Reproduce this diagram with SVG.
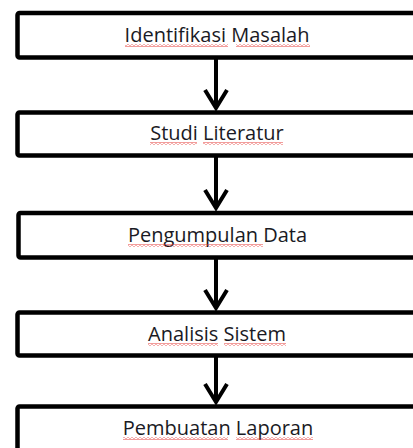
<svg xmlns="http://www.w3.org/2000/svg" width="413" height="448" viewBox="0 0 413 448">
  <style>
    .box { fill: #ffffff; stroke: #000000; stroke-width: 4.5; }
    .lbl { font-family: "Open Sans", "Noto Sans", sans-serif; font-size: 20px; fill: #1a1a24; text-anchor: middle; }
    .conn { stroke: #000000; stroke-width: 4; fill: none; }
    .sq { fill: url(#squiggle); }
  </style>
  <defs>
    <marker id="chev" markerUnits="userSpaceOnUse" viewBox="-24 -16 32 32" refX="0" refY="0" markerWidth="32" markerHeight="32" orient="auto" overflow="visible">
      <path d="M-18,-11 L0,0 L-18,11" fill="none" stroke="#000000" stroke-width="4" stroke-linejoin="miter"/>
    </marker>
    <pattern id="squiggle" patternUnits="userSpaceOnUse" width="4" height="3">
      <path d="M0,2.4 L2,0.6 L4,2.4" fill="none" stroke="#e53935" stroke-width="0.9"/>
    </pattern>
  </defs>
  <rect width="413" height="448" fill="#ffffff"/>

  <g id="connectors">
    <line class="conn" x1="216" y1="58" x2="216" y2="108" marker-end="url(#chev)"/>
    <line class="conn" x1="216" y1="156" x2="216" y2="208" marker-end="url(#chev)"/>
    <line class="conn" x1="216" y1="258" x2="216" y2="308" marker-end="url(#chev)"/>
    <line class="conn" x1="216" y1="356" x2="216" y2="402" marker-end="url(#chev)"/>
  </g>

  <g id="node-identifikasi">
    <rect class="box" x="17.5" y="13" width="420" height="44.5" rx="2"/>
    <text class="lbl" x="217" y="42">Identifikasi Masalah</text>
    <rect class="sq" x="125" y="44" width="103" height="3"/>
    <rect class="sq" x="236" y="44" width="74" height="3"/>
  </g>

  <g id="node-studi">
    <rect class="box" x="17.5" y="112.5" width="420" height="43" rx="2"/>
    <text class="lbl" x="217" y="140">Studi Literatur</text>
    <rect class="sq" x="150" y="142" width="47" height="3"/>
    <rect class="sq" x="203" y="142" width="80" height="3"/>
  </g>

  <g id="node-pengumpulan">
    <rect class="box" x="18.5" y="213" width="420" height="44.5" rx="2"/>
    <text class="lbl" x="217.5" y="242">Pengumpulan Data</text>
    <rect class="sq" x="128" y="244" width="135" height="3"/>
  </g>

  <g id="node-analisis">
    <rect class="box" x="17.5" y="312.5" width="420" height="43" rx="2"/>
    <text class="lbl" x="217" y="341">Analisis Sistem</text>
    <rect class="sq" x="148" y="343" width="70" height="3"/>
    <rect class="sq" x="224" y="343" width="62" height="3"/>
  </g>

  <g id="node-pembuatan">
    <rect class="box" x="17.5" y="406.5" width="420" height="60" rx="2"/>
    <text class="lbl" x="218" y="435">Pembuatan Laporan</text>
    <rect class="sq" x="123" y="437" width="105" height="3"/>
    <rect class="sq" x="236" y="437" width="77" height="3"/>
  </g>
</svg>
